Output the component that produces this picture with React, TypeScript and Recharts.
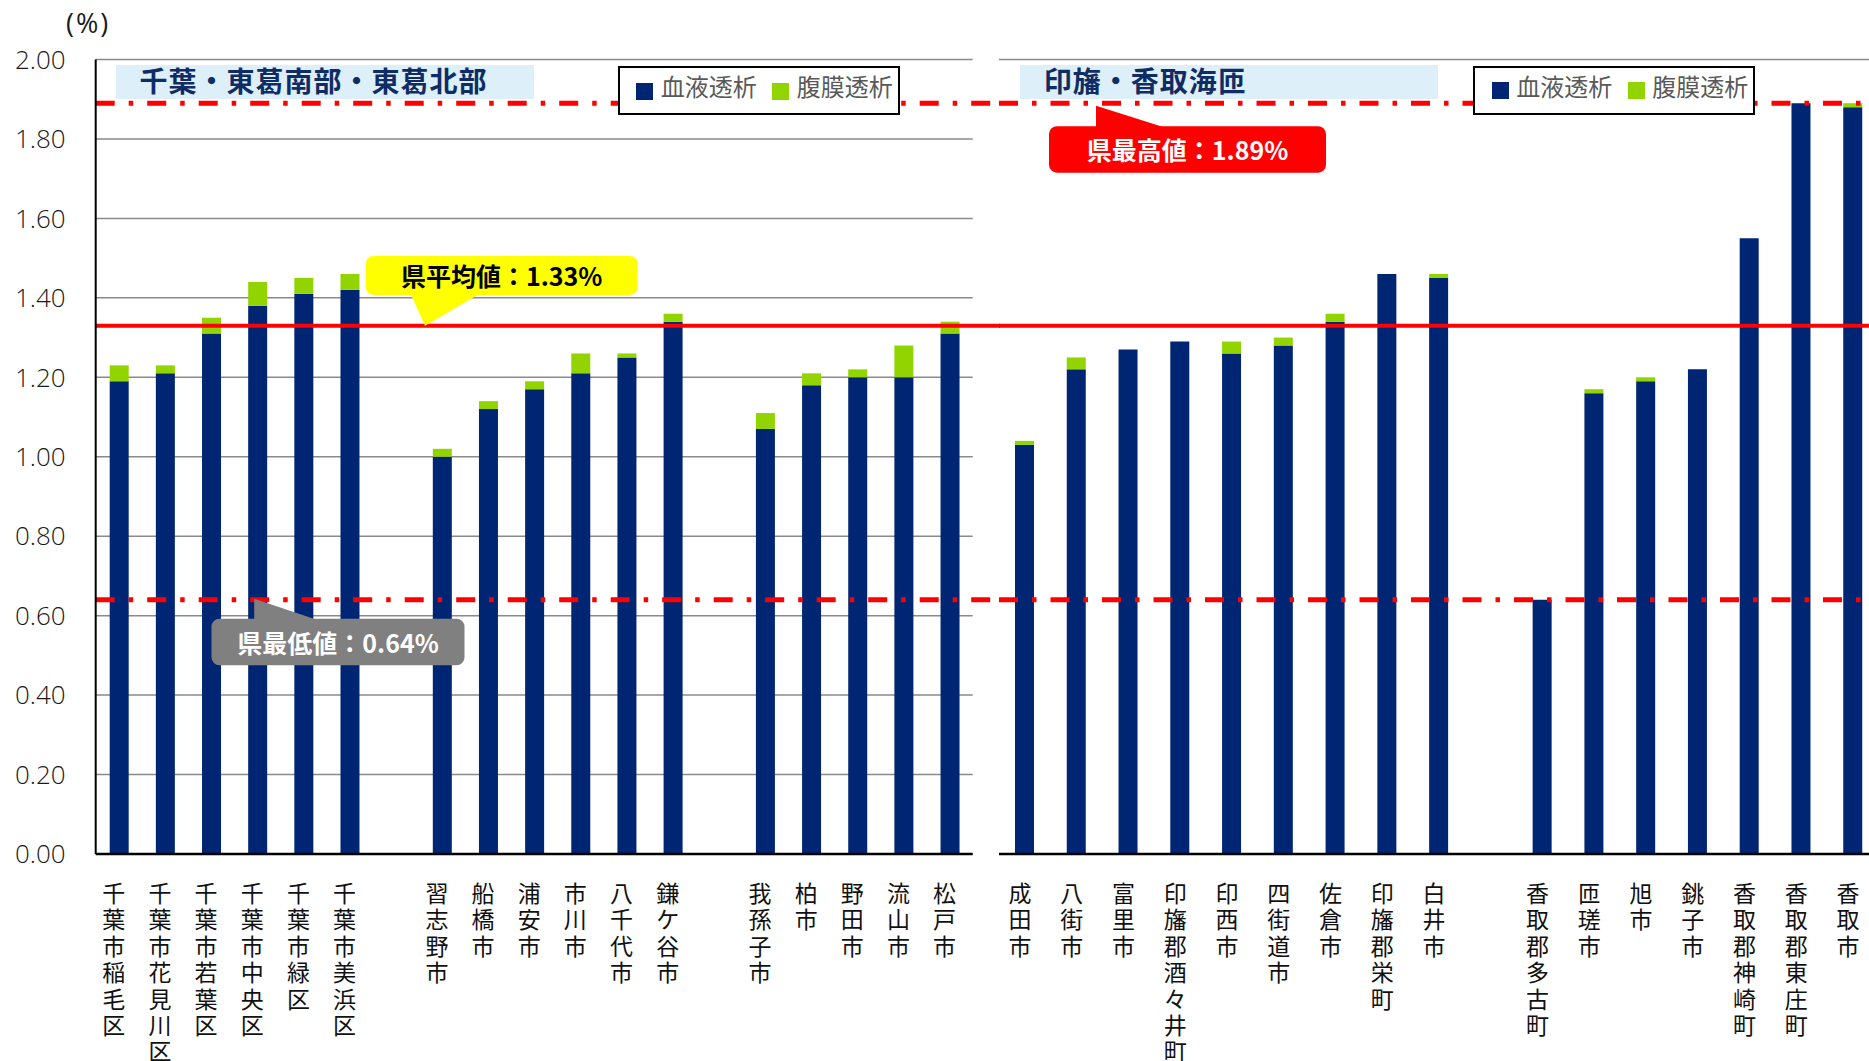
import React from 'react';
import { BarChart, Bar, XAxis, YAxis, CartesianGrid, ReferenceLine } from 'recharts';

// 千葉・東葛南部・東葛北部 ('' = gap between groups)
const leftCategories = [
  '千葉市稲毛区', '千葉市花見川区', '千葉市若葉区', '千葉市中央区', '千葉市緑区', '千葉市美浜区', '',
  '習志野市', '船橋市', '浦安市', '市川市', '八千代市', '鎌ケ谷市', '',
  '我孫子市', '柏市', '野田市', '流山市', '松戸市',
];
const leftHemo = [1.19, 1.21, 1.31, 1.38, 1.41, 1.42, null, 1.0, 1.12, 1.17, 1.21, 1.25, 1.34, null, 1.07, 1.18, 1.2, 1.2, 1.31];
const leftPeri = [0.04, 0.02, 0.04, 0.06, 0.04, 0.04, null, 0.02, 0.02, 0.02, 0.05, 0.01, 0.02, null, 0.04, 0.03, 0.02, 0.08, 0.03];

// 印旛・香取海匝
const rightCategories = [
  '成田市', '八街市', '富里市', '印旛郡酒々井町', '印西市', '四街道市', '佐倉市', '印旛郡栄町', '白井市', '',
  '香取郡多古町', '匝瑳市', '旭市', '銚子市', '香取郡神崎町', '香取郡東庄町', '香取市',
];
const rightHemo = [1.03, 1.22, 1.27, 1.29, 1.26, 1.28, 1.34, 1.46, 1.45, null, 0.64, 1.16, 1.19, 1.22, 1.55, 1.89, 1.88];
const rightPeri = [0.01, 0.03, 0, 0, 0.03, 0.02, 0.02, 0, 0.01, null, 0, 0.01, 0.01, 0, 0, 0, 0.01];

const yTicks = [0, 0.2, 0.4, 0.6, 0.8, 1.0, 1.2, 1.4, 1.6, 1.8, 2.0];
const seriesNames = ['血液透析', '腹膜透析'];
const AVG = 1.33;
const MAX = 1.89;
const MIN = 0.64;

const NAVY = '#002673';
const GREEN = '#92D400';
const GRID = '#8a8a8a';
const JP = "'Noto Sans CJK JP', sans-serif";

const leftData = leftCategories.map((name, i) => ({ name, hemo: leftHemo[i], peri: leftPeri[i] }));
const rightData = rightCategories.map((name, i) => ({ name, hemo: rightHemo[i], peri: rightPeri[i] }));

// one character per line, like Excel's stacked vertical labels
const VerticalTick = (props: any) => {
  const { x, y, payload } = props;
  const chars = Array.from(String(payload.value ?? ''));
  return (
    <g>
      {chars.map((c, i) => (
        <text key={i} x={x - 5} y={y + 48 + i * 26.4} textAnchor="middle" fontSize={23} fontFamily={JP} fill="#111">
          {c}
        </text>
      ))}
    </g>
  );
};

const lineShape = (stroke: string, width: number, dash: string | undefined, extendRight: number) => (props: any) => (
  <line
    x1={props.x1}
    y1={props.y1}
    x2={props.x2 + extendRight}
    y2={props.y2}
    stroke={stroke}
    strokeWidth={width}
    strokeDasharray={dash}
  />
);

const Callout = (props: any) => {
  const { viewBox, dx, dy, w, h, tail, fill, color, text } = props;
  const x = viewBox.x;
  const y = viewBox.y;
  const bx = x + dx;
  const by = y + dy;
  const pts = tail.map((p: number[]) => `${x + p[0]},${y + p[1]}`).join(' ');
  return (
    <g>
      <polygon points={pts} fill={fill} />
      <rect x={bx} y={by} width={w} height={h} rx={8} fill={fill} />
      <text
        x={bx + w / 2}
        y={by + h / 2}
        textAnchor="middle"
        dominantBaseline="central"
        fontSize={25}
        fontWeight={700}
        fontFamily={JP}
        fill={color}
      >
        {text}
      </text>
    </g>
  );
};

const LegendBox = ({ left, top }: { left: number; top: number }) => (
  <div
    style={{
      position: 'absolute', left, top, width: 282, height: 49, boxSizing: 'border-box',
      border: '2px solid #000', background: '#fff', fontFamily: JP, fontSize: 24, color: '#595959',
    }}
  >
    <div style={{ position: 'absolute', left: 16.5, top: 14.5, width: 17, height: 17, background: NAVY }} />
    <div style={{ position: 'absolute', left: 41, top: 1, lineHeight: '34px', whiteSpace: 'nowrap' }}>{seriesNames[0]}</div>
    <div style={{ position: 'absolute', left: 152.5, top: 14.5, width: 17, height: 17, background: GREEN }} />
    <div style={{ position: 'absolute', left: 177, top: 1, lineHeight: '34px', whiteSpace: 'nowrap' }}>{seriesNames[1]}</div>
  </div>
);

const TitleBox = ({ left, text }: { left: number; text: string }) => (
  <div
    style={{
      position: 'absolute', left, top: 65, width: 418, height: 34, background: '#DDEFF8',
      fontFamily: JP, fontWeight: 700, fontSize: 28, letterSpacing: 1, color: '#102C64',
      lineHeight: '31px', paddingLeft: 24, boxSizing: 'border-box', whiteSpace: 'nowrap',
    }}
  >
    {text}
  </div>
);

export default function App() {
  return (
    <div style={{ position: 'absolute', left: 0, top: 0, width: 1869, height: 1061, overflow: 'hidden', background: '#fff' }}>
      <div style={{ position: 'absolute', left: 0, top: 0 }}>
        <BarChart width={1000} height={1061} data={leftData} margin={{ top: 59.5, right: 27.3, left: 0, bottom: 0 }}>
          <CartesianGrid horizontal vertical={false} stroke={GRID} strokeWidth={1.5} />
          <XAxis
            dataKey="name"
            interval={0}
            height={207}
            tickLine={false}
            tickSize={0}
            tickMargin={0}
            axisLine={{ stroke: '#000', strokeWidth: 2.5 }}
            tick={<VerticalTick />}
          />
          <YAxis
            domain={[0, 2]}
            ticks={yTicks}
            width={95.7}
            tickLine={false}
            tickSize={0}
            tickMargin={30}
            axisLine={{ stroke: '#000', strokeWidth: 2 }}
            tickFormatter={(v: number) => v.toFixed(2)}
            tick={{ fontSize: 26, fill: '#1a1a1a', fontFamily: "'Open Sans', sans-serif", fontWeight: 300 }}
          />
          <YAxis yAxisId="r" orientation="right" domain={[0, 2]} width={0} tick={false} tickLine={false} axisLine={{ stroke: GRID, strokeWidth: 1.5 }} />
          <Bar dataKey="hemo" name={seriesNames[0]} stackId="a" fill={NAVY} barSize={19} isAnimationActive={false} />
          <Bar dataKey="peri" name={seriesNames[1]} stackId="a" fill={GREEN} barSize={19} isAnimationActive={false} />
          <ReferenceLine y={MAX} shape={lineShape('#FF0000', 5, '19 14 4.5 14', 27.3)} />
          <ReferenceLine
            y={MIN}
            shape={lineShape('#FF0000', 5, '19 14 4.5 14', 27.3)}
            label={
              <Callout
                dx={115.8} dy={19} w={253} h={46.5}
                tail={[[158.5, -1], [158.5, 20], [221, 20]]}
                fill="#808080" color="#fff" text={`県最低値：${MIN.toFixed(2)}%`}
              />
            }
          />
          <ReferenceLine
            y={AVG}
            shape={lineShape('#FF0000', 4, undefined, 27.3)}
            label={
              <Callout
                dx={270} dy={-69.7} w={272} h={39}
                tail={[[315.3, -31], [382.3, -31], [329.3, 0]]}
                fill="#FFFF00" color="#000" text={`県平均値：${AVG.toFixed(2)}%`}
              />
            }
          />
        </BarChart>
      </div>
      <div style={{ position: 'absolute', left: 999, top: 0 }}>
        <BarChart width={880} height={1061} data={rightData} margin={{ top: 59.5, right: 0, left: 0, bottom: 0 }}>
          <CartesianGrid horizontal vertical={false} stroke={GRID} strokeWidth={1.5} />
          <XAxis
            dataKey="name"
            interval={0}
            height={207}
            tickLine={false}
            tickSize={0}
            tickMargin={0}
            axisLine={{ stroke: '#000', strokeWidth: 2.5 }}
            tick={<VerticalTick />}
          />
          <YAxis domain={[0, 2]} ticks={yTicks} width={0} tick={false} tickLine={false} axisLine={{ stroke: GRID, strokeWidth: 1.5 }} />
          <Bar dataKey="hemo" name={seriesNames[0]} stackId="a" fill={NAVY} barSize={19} isAnimationActive={false} />
          <Bar dataKey="peri" name={seriesNames[1]} stackId="a" fill={GREEN} barSize={19} isAnimationActive={false} />
          <ReferenceLine y={MIN} shape={lineShape('#FF0000', 5, '19 14 4.5 14', 0)} />
          <ReferenceLine y={AVG} shape={lineShape('#FF0000', 4, undefined, 0)} />
          <ReferenceLine
            y={MAX}
            shape={lineShape('#FF0000', 5, '19 14 4.5 14', 0)}
            label={
              <Callout
                dx={50} dy={23} w={277} h={46.5}
                tail={[[97, 2.5], [97, 24], [165, 24]]}
                fill="#FF0000" color="#fff" text={`県最高値：${MAX.toFixed(2)}%`}
              />
            }
          />
        </BarChart>
      </div>
      <div style={{ position: 'absolute', left: 66, top: 9, fontFamily: "'Open Sans', sans-serif", fontSize: 27, lineHeight: '27px', letterSpacing: 2, color: '#1a1a1a' }}>
        (%)
      </div>
      <TitleBox left={115.5} text="千葉・東葛南部・東葛北部" />
      <TitleBox left={1019.7} text="印旛・香取海匝" />
      <LegendBox left={617.7} top={66} />
      <LegendBox left={1473.3} top={65.7} />
    </div>
  );
}
